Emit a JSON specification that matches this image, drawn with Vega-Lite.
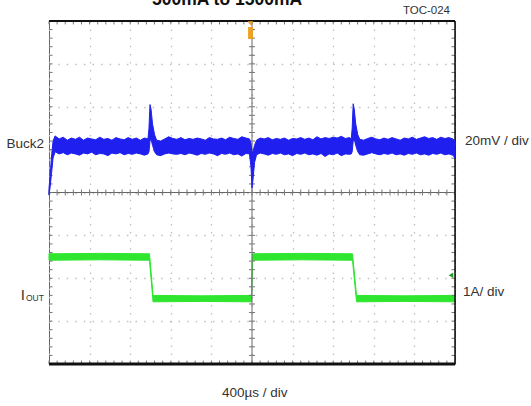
{
  "$schema": "https://vega.github.io/schema/vega-lite/v6.json",
  "width": 406,
  "height": 343,
  "autosize": {"type": "none"},
  "padding": {"left": 49, "top": 21, "right": 76, "bottom": 42},
  "background": "white",
  "config": {"view": {"stroke": "#666", "strokeWidth": 1}, "text": {"font": "Liberation Sans", "fill": "#333"}},
  "datasets": {
    "buck2": [
      {"t": 0, "lo": 3.95, "hi": 4.1},
      {"t": 10, "lo": 4.1, "hi": 4.35},
      {"t": 25, "lo": 4.45, "hi": 4.85},
      {"t": 40, "lo": 4.8, "hi": 5.2},
      {"t": 60, "lo": 4.95, "hi": 5.32},
      {"t": 100, "lo": 4.9, "hi": 5.25},
      {"t": 140, "lo": 4.93, "hi": 5.29},
      {"t": 180, "lo": 4.88, "hi": 5.22},
      {"t": 220, "lo": 4.92, "hi": 5.27},
      {"t": 260, "lo": 4.9, "hi": 5.24},
      {"t": 300, "lo": 4.87, "hi": 5.29},
      {"t": 340, "lo": 4.92, "hi": 5.22},
      {"t": 380, "lo": 4.9, "hi": 5.27},
      {"t": 420, "lo": 4.94, "hi": 5.25},
      {"t": 460, "lo": 4.88, "hi": 5.23},
      {"t": 500, "lo": 4.91, "hi": 5.29},
      {"t": 540, "lo": 4.9, "hi": 5.24},
      {"t": 580, "lo": 4.86, "hi": 5.26},
      {"t": 620, "lo": 4.92, "hi": 5.22},
      {"t": 660, "lo": 4.9, "hi": 5.28},
      {"t": 700, "lo": 4.93, "hi": 5.25},
      {"t": 740, "lo": 4.88, "hi": 5.23},
      {"t": 780, "lo": 4.91, "hi": 5.28},
      {"t": 820, "lo": 4.89, "hi": 5.24},
      {"t": 860, "lo": 4.92, "hi": 5.27},
      {"t": 900, "lo": 4.9, "hi": 5.22},
      {"t": 940, "lo": 4.87, "hi": 5.27},
      {"t": 975, "lo": 4.9, "hi": 5.25},
      {"t": 985, "lo": 4.95, "hi": 5.5},
      {"t": 995, "lo": 5.2, "hi": 6.05},
      {"t": 1005, "lo": 5.25, "hi": 5.95},
      {"t": 1020, "lo": 5.1, "hi": 5.6},
      {"t": 1040, "lo": 4.95, "hi": 5.35},
      {"t": 1060, "lo": 4.88, "hi": 5.22},
      {"t": 1100, "lo": 4.86, "hi": 5.2},
      {"t": 1140, "lo": 4.9, "hi": 5.25},
      {"t": 1180, "lo": 4.92, "hi": 5.3},
      {"t": 1220, "lo": 4.9, "hi": 5.26},
      {"t": 1260, "lo": 4.89, "hi": 5.24},
      {"t": 1300, "lo": 4.91, "hi": 5.28},
      {"t": 1340, "lo": 4.88, "hi": 5.23},
      {"t": 1380, "lo": 4.92, "hi": 5.26},
      {"t": 1420, "lo": 4.9, "hi": 5.24},
      {"t": 1460, "lo": 4.87, "hi": 5.27},
      {"t": 1500, "lo": 4.91, "hi": 5.25},
      {"t": 1540, "lo": 4.89, "hi": 5.22},
      {"t": 1580, "lo": 4.92, "hi": 5.28},
      {"t": 1620, "lo": 4.9, "hi": 5.25},
      {"t": 1660, "lo": 4.86, "hi": 5.24},
      {"t": 1700, "lo": 4.91, "hi": 5.27},
      {"t": 1740, "lo": 4.89, "hi": 5.23},
      {"t": 1780, "lo": 4.92, "hi": 5.29},
      {"t": 1820, "lo": 4.88, "hi": 5.26},
      {"t": 1860, "lo": 4.9, "hi": 5.24},
      {"t": 1900, "lo": 4.85, "hi": 5.3},
      {"t": 1940, "lo": 4.91, "hi": 5.27},
      {"t": 1975, "lo": 4.9, "hi": 5.25},
      {"t": 1990, "lo": 4.6, "hi": 5.15},
      {"t": 2000, "lo": 4.1, "hi": 4.95},
      {"t": 2010, "lo": 4.3, "hi": 4.95},
      {"t": 2025, "lo": 4.7, "hi": 5.1},
      {"t": 2045, "lo": 4.88, "hi": 5.22},
      {"t": 2080, "lo": 4.92, "hi": 5.27},
      {"t": 2120, "lo": 4.9, "hi": 5.25},
      {"t": 2160, "lo": 4.87, "hi": 5.28},
      {"t": 2200, "lo": 4.91, "hi": 5.23},
      {"t": 2240, "lo": 4.89, "hi": 5.26},
      {"t": 2280, "lo": 4.92, "hi": 5.24},
      {"t": 2320, "lo": 4.88, "hi": 5.27},
      {"t": 2360, "lo": 4.9, "hi": 5.22},
      {"t": 2400, "lo": 4.86, "hi": 5.26},
      {"t": 2440, "lo": 4.91, "hi": 5.25},
      {"t": 2480, "lo": 4.89, "hi": 5.28},
      {"t": 2520, "lo": 4.92, "hi": 5.24},
      {"t": 2560, "lo": 4.88, "hi": 5.27},
      {"t": 2600, "lo": 4.9, "hi": 5.23},
      {"t": 2640, "lo": 4.87, "hi": 5.3},
      {"t": 2680, "lo": 4.91, "hi": 5.25},
      {"t": 2720, "lo": 4.84, "hi": 5.28},
      {"t": 2760, "lo": 4.9, "hi": 5.26},
      {"t": 2800, "lo": 4.88, "hi": 5.29},
      {"t": 2840, "lo": 4.92, "hi": 5.27},
      {"t": 2880, "lo": 4.86, "hi": 5.31},
      {"t": 2920, "lo": 4.9, "hi": 5.26},
      {"t": 2960, "lo": 4.89, "hi": 5.28},
      {"t": 2978, "lo": 4.9, "hi": 5.25},
      {"t": 2987, "lo": 4.95, "hi": 5.5},
      {"t": 2997, "lo": 5.2, "hi": 6.07},
      {"t": 3007, "lo": 5.25, "hi": 5.95},
      {"t": 3022, "lo": 5.1, "hi": 5.6},
      {"t": 3042, "lo": 4.95, "hi": 5.35},
      {"t": 3062, "lo": 4.88, "hi": 5.24},
      {"t": 3100, "lo": 4.87, "hi": 5.22},
      {"t": 3140, "lo": 4.9, "hi": 5.26},
      {"t": 3180, "lo": 4.93, "hi": 5.29},
      {"t": 3220, "lo": 4.9, "hi": 5.25},
      {"t": 3260, "lo": 4.88, "hi": 5.23},
      {"t": 3300, "lo": 4.91, "hi": 5.27},
      {"t": 3340, "lo": 4.89, "hi": 5.24},
      {"t": 3380, "lo": 4.92, "hi": 5.28},
      {"t": 3420, "lo": 4.88, "hi": 5.25},
      {"t": 3460, "lo": 4.9, "hi": 5.22},
      {"t": 3500, "lo": 4.87, "hi": 5.27},
      {"t": 3540, "lo": 4.91, "hi": 5.25},
      {"t": 3580, "lo": 4.89, "hi": 5.29},
      {"t": 3620, "lo": 4.92, "hi": 5.24},
      {"t": 3660, "lo": 4.88, "hi": 5.27},
      {"t": 3700, "lo": 4.9, "hi": 5.3},
      {"t": 3740, "lo": 4.87, "hi": 5.26},
      {"t": 3780, "lo": 4.91, "hi": 5.28},
      {"t": 3820, "lo": 4.89, "hi": 5.24},
      {"t": 3860, "lo": 4.92, "hi": 5.29},
      {"t": 3900, "lo": 4.88, "hi": 5.26},
      {"t": 3940, "lo": 4.9, "hi": 5.28},
      {"t": 3980, "lo": 4.87, "hi": 5.25},
      {"t": 4000, "lo": 4.8, "hi": 5.2}
    ],
    "iout": [
      {"t": 0, "lo": 2.42, "hi": 2.57},
      {"t": 500, "lo": 2.43, "hi": 2.58},
      {"t": 990, "lo": 2.42, "hi": 2.57},
      {"t": 1025, "lo": 1.45, "hi": 1.6},
      {"t": 1500, "lo": 1.46, "hi": 1.59},
      {"t": 1995, "lo": 1.45, "hi": 1.6},
      {"t": 2005, "lo": 2.42, "hi": 2.57},
      {"t": 2500, "lo": 2.43, "hi": 2.58},
      {"t": 2990, "lo": 2.42, "hi": 2.57},
      {"t": 3030, "lo": 1.45, "hi": 1.6},
      {"t": 3500, "lo": 1.46, "hi": 1.59},
      {"t": 4000, "lo": 1.45, "hi": 1.6}
    ],
    "mx": [
      {"t": 0}, {"t": 80}, {"t": 160}, {"t": 240}, {"t": 320}, {"t": 400}, {"t": 480}, {"t": 560}, {"t": 640}, {"t": 720},
      {"t": 800}, {"t": 880}, {"t": 960}, {"t": 1040}, {"t": 1120}, {"t": 1200}, {"t": 1280}, {"t": 1360}, {"t": 1440}, {"t": 1520},
      {"t": 1600}, {"t": 1680}, {"t": 1760}, {"t": 1840}, {"t": 1920}, {"t": 2000}, {"t": 2080}, {"t": 2160}, {"t": 2240}, {"t": 2320},
      {"t": 2400}, {"t": 2480}, {"t": 2560}, {"t": 2640}, {"t": 2720}, {"t": 2800}, {"t": 2880}, {"t": 2960}, {"t": 3040}, {"t": 3120},
      {"t": 3200}, {"t": 3280}, {"t": 3360}, {"t": 3440}, {"t": 3520}, {"t": 3600}, {"t": 3680}, {"t": 3760}, {"t": 3840}, {"t": 3920},
      {"t": 4000}
    ],
    "my": [
      {"v": 0}, {"v": 0.2}, {"v": 0.4}, {"v": 0.6}, {"v": 0.8}, {"v": 1}, {"v": 1.2}, {"v": 1.4}, {"v": 1.6}, {"v": 1.8},
      {"v": 2}, {"v": 2.2}, {"v": 2.4}, {"v": 2.6}, {"v": 2.8}, {"v": 3}, {"v": 3.2}, {"v": 3.4}, {"v": 3.6}, {"v": 3.8},
      {"v": 4}, {"v": 4.2}, {"v": 4.4}, {"v": 4.6}, {"v": 4.8}, {"v": 5}, {"v": 5.2}, {"v": 5.4}, {"v": 5.6}, {"v": 5.8},
      {"v": 6}, {"v": 6.2}, {"v": 6.4}, {"v": 6.6}, {"v": 6.8}, {"v": 7}, {"v": 7.2}, {"v": 7.4}, {"v": 7.6}, {"v": 7.8},
      {"v": 8}
    ]
  },
  "layer": [
    {
      "data": {"name": "iout"},
      "mark": {"type": "area", "color": "#2ee62e", "stroke": "#2ee62e", "strokeWidth": 1},
      "encoding": {
        "x": {"field": "t", "type": "quantitative", "scale": {"domain": [0, 4000], "nice": false, "zero": false},
          "axis": {"values": [0, 400, 800, 1200, 1600, 2000, 2400, 2800, 3200, 3600, 4000], "domain": false, "ticks": false, "labels": false, "title": null, "grid": true, "gridColor": "#c0c0c0", "gridDash": [1.5, 6.6], "gridWidth": 1.3}},
        "y": {"field": "hi", "type": "quantitative", "scale": {"domain": [0, 8], "nice": false, "zero": false},
          "axis": {"values": [0, 1, 2, 3, 4, 5, 6, 7, 8], "domain": false, "ticks": false, "labels": false, "title": null, "grid": true, "gridColor": "#c0c0c0", "gridDash": [1.5, 7.1], "gridWidth": 1.3}},
        "y2": {"field": "lo"}
      }
    },
    {
      "data": {"values": [{}]},
      "mark": {"type": "rule", "color": "#666", "strokeWidth": 1},
      "encoding": {"x": {"datum": 2000}}
    },
    {
      "data": {"values": [{}]},
      "mark": {"type": "rule", "color": "#666", "strokeWidth": 1},
      "encoding": {"y": {"datum": 4}}
    },
    {
      "data": {"name": "mx"},
      "mark": {"type": "rule", "color": "#777", "strokeWidth": 1},
      "encoding": {"x": {"field": "t", "type": "quantitative"}, "y": {"datum": 3.93}, "y2": {"datum": 4.07}}
    },
    {
      "data": {"name": "mx"},
      "mark": {"type": "rule", "color": "#777", "strokeWidth": 1},
      "encoding": {"x": {"field": "t", "type": "quantitative"}, "y": {"datum": 7.92}, "y2": {"datum": 8}}
    },
    {
      "data": {"name": "mx"},
      "mark": {"type": "rule", "color": "#777", "strokeWidth": 1},
      "encoding": {"x": {"field": "t", "type": "quantitative"}, "y": {"datum": 0}, "y2": {"datum": 0.08}}
    },
    {
      "data": {"name": "my"},
      "mark": {"type": "rule", "color": "#777", "strokeWidth": 1},
      "encoding": {"y": {"field": "v", "type": "quantitative"}, "x": {"datum": 1970}, "x2": {"datum": 2030}}
    },
    {
      "data": {"name": "my"},
      "mark": {"type": "rule", "color": "#777", "strokeWidth": 1},
      "encoding": {"y": {"field": "v", "type": "quantitative"}, "x": {"datum": 0}, "x2": {"datum": 35}}
    },
    {
      "data": {"name": "my"},
      "mark": {"type": "rule", "color": "#777", "strokeWidth": 1},
      "encoding": {"y": {"field": "v", "type": "quantitative"}, "x": {"datum": 3965}, "x2": {"datum": 4000}}
    },
    {
      "data": {"values": [{}]},
      "mark": {"type": "rule", "color": "#111", "strokeWidth": 3},
      "encoding": {"y": {"datum": 0}}
    },
    {
      "data": {"values": [{}]},
      "mark": {"type": "rule", "color": "#111", "strokeWidth": 2},
      "encoding": {"y": {"datum": 8}}
    },
    {
      "data": {"values": [{}]},
      "mark": {"type": "rule", "color": "#111", "strokeWidth": 1.5},
      "encoding": {"x": {"datum": 4000}}
    },
    {
      "data": {"name": "buck2"},
      "mark": {"type": "area", "color": "#1f1ff0", "stroke": "#1f1ff0", "strokeWidth": 1},
      "encoding": {"x": {"field": "t", "type": "quantitative"}, "y": {"field": "hi", "type": "quantitative"}, "y2": {"field": "lo"}}
    },
    {
      "data": {"values": [{"name": "trigger"}]},
      "mark": {"type": "point", "shape": "M-0.7,-1L0.7,-1L0,0Z", "filled": true, "color": "#f0a020", "size": 64, "opacity": 1},
      "encoding": {"x": {"datum": 1985}, "y": {"datum": 7.9}}
    },
    {
      "data": {"values": [{"name": "trigger"}]},
      "mark": {"type": "point", "shape": "M-0.4,-1L0.4,-1L0.4,1L-0.4,1Z", "filled": true, "color": "#f0a020", "size": 144, "opacity": 1},
      "encoding": {"x": {"datum": 1985}, "y": {"datum": 7.72}}
    },
    {
      "data": {"values": [{"name": "ground"}]},
      "mark": {"type": "point", "shape": "triangle-left", "filled": true, "color": "#2a9a2a", "size": 28, "opacity": 1},
      "encoding": {"x": {"datum": 3960}, "y": {"datum": 2.07}}
    },
    {
      "data": {"values": [{"s": "500mA to 1500mA"}]},
      "mark": {"type": "text", "fontSize": 17.5, "fontWeight": "bold", "align": "center", "baseline": "alphabetic", "fill": "#111"},
      "encoding": {"x": {"datum": 1754}, "y": {"datum": 8.373}, "text": {"field": "s"}}
    },
    {
      "data": {"values": [{"s": "TOC-024"}]},
      "mark": {"type": "text", "fontSize": 11.5, "align": "right", "baseline": "alphabetic"},
      "encoding": {"x": {"datum": 3951}, "y": {"datum": 8.163}, "text": {"field": "s"}}
    },
    {
      "data": {"values": [{"s": "Buck2"}]},
      "mark": {"type": "text", "fontSize": 13.5, "align": "right", "baseline": "alphabetic"},
      "encoding": {"x": {"datum": -49}, "y": {"datum": 5.04}, "text": {"field": "s"}}
    },
    {
      "data": {"values": [{"s": "I"}]},
      "mark": {"type": "text", "fontSize": 15, "align": "right", "baseline": "alphabetic"},
      "encoding": {"x": {"datum": -236}, "y": {"datum": 1.49}, "text": {"field": "s"}}
    },
    {
      "data": {"values": [{"s": "OUT"}]},
      "mark": {"type": "text", "fontSize": 8.5, "align": "left", "baseline": "alphabetic"},
      "encoding": {"x": {"datum": -227}, "y": {"datum": 1.47}, "text": {"field": "s"}}
    },
    {
      "data": {"values": [{"s": "20mV / div"}]},
      "mark": {"type": "text", "fontSize": 13.5, "align": "left", "baseline": "alphabetic"},
      "encoding": {"x": {"datum": 4098}, "y": {"datum": 5.11}, "text": {"field": "s"}}
    },
    {
      "data": {"values": [{"s": "1A/ div"}]},
      "mark": {"type": "text", "fontSize": 13.5, "align": "left", "baseline": "alphabetic"},
      "encoding": {"x": {"datum": 4079}, "y": {"datum": 1.586}, "text": {"field": "s"}}
    },
    {
      "data": {"values": [{"s": "400µs / div"}]},
      "mark": {"type": "text", "fontSize": 13.5, "align": "left", "baseline": "alphabetic"},
      "encoding": {"x": {"datum": 1704}, "y": {"datum": -0.77}, "text": {"field": "s"}}
    }
  ]
}
